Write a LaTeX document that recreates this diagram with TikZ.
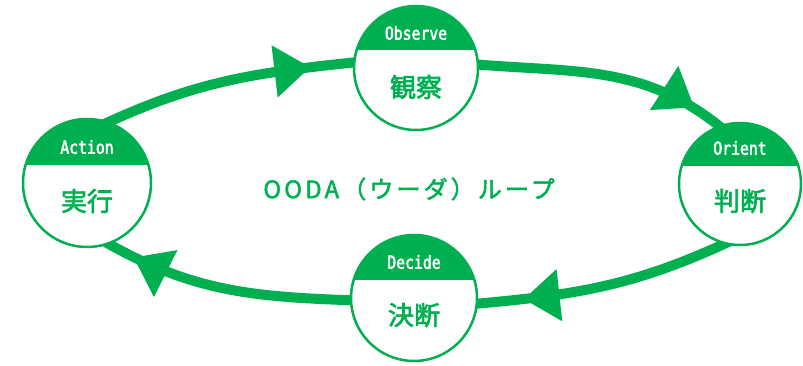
\documentclass[tikz,border=0pt]{standalone}
\usepackage{fontspec}
\usetikzlibrary{arrows.meta,decorations.markings,backgrounds}
\newfontfamily\hdrfont[FakeStretch=0.82,FakeBold=2.5]{DejaVu Sans Mono}
\newfontfamily\jpfont[FakeBold=2.5]{Noto Sans CJK JP}
\newfontfamily\jptitle[LetterSpace=13,FakeBold=2]{Noto Sans CJK JP}
\definecolor{ooda}{HTML}{00B050}
\tikzset{
  phase/.style={circle, draw=ooda, line width=2.5pt, fill=white, minimum size=#1, inner sep=0pt,
    path picture={\fill[ooda] (path picture bounding box.north west) rectangle ([yshift=18pt]path picture bounding box.east);}},
  hdr/.style={text=white, inner sep=0pt, font=\hdrfont\fontsize{18}{18}\selectfont},
  kanji/.style={text=ooda, inner sep=0pt, font=\jpfont\fontsize{26}{26}\selectfont},
  ring/.style={draw=ooda, line width=10pt, shorten <=-8pt, shorten >=-8pt,
    postaction={decorate},
    decoration={markings, mark=at position #1 with {\arrow{Triangle[length=36pt,width=50pt]}}}},
}
\begin{document}
\begin{tikzpicture}[x=1pt,y=1pt]
\useasboundingbox (0,0) rectangle (803,366);
% phases
\node[phase=124pt] (obs) at (416,298) {};
\node[phase=128pt] (act) at (87,183) {};
\node[phase=122pt] (ori) at (740,182) {};
\node[phase=126pt] (dec) at (414,68) {};
% headers
\node[hdr] (obsH) at ([yshift=35pt]obs.center) {Observe};
\node[hdr] (actH) at ([yshift=36pt]act.center) {Action};
\node[hdr] (oriH) at ([yshift=36pt]ori.center) {Orient};
\node[hdr] (decH) at ([yshift=36pt]dec.center) {Decide};
% kanji
\node[kanji] (obsK) at ([yshift=-19pt]obs.center) {観察};
\node[kanji] (actK) at ([yshift=-18pt]act.center) {実行};
\node[kanji] (oriK) at ([yshift=-17pt]ori.center) {判断};
\node[kanji] (decK) at ([yshift=-17pt]dec.center) {決断};
% title
\node[text=ooda, inner sep=0pt, font=\jptitle\fontsize{24}{24}\selectfont] (title) at (409,177) {OODA（ウーダ）ループ};
% loop
\begin{scope}[on background layer]
\draw[ring=0.83] (act.70) to[out=25,in=186] (obs.175);
\draw[ring=0.88] (obs.3) to[out=-5,in=140] (ori.110);
\draw[ring=0.82] (ori.255) to[out=205,in=5] (dec.-5);
\draw[ring=0.89] (dec.182) to[out=178,in=330] (act.290);
\end{scope}
\end{tikzpicture}
\end{document}
